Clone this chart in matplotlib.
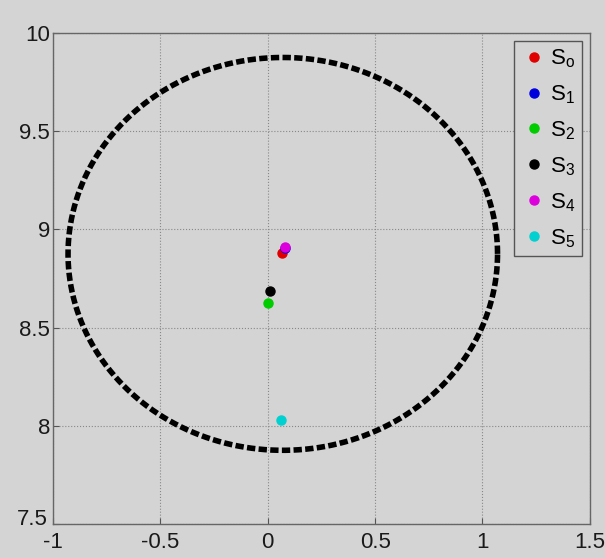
import numpy as np
import matplotlib
matplotlib.use("Agg")
import matplotlib.pyplot as plt
from matplotlib.transforms import ScaledTranslation

plt.rcParams['font.family'] = ['Liberation Sans', 'DejaVu Sans']
plt.rcParams['mathtext.default'] = 'regular'

# Source positions
labels = ['$S_o$', '$S_1$', '$S_2$', '$S_3$', '$S_4$', '$S_5$']
colors = ['#e00000', '#0000dd', '#00cc00', '#000000', '#dd00dd', '#00d0d0']
xs = [0.065, 0.08, 0.0, 0.01, 0.08, 0.06]
ys = [8.878, 8.905, 8.625, 8.685, 8.908, 8.03]

# Reference circle
circle_center = (0.07, 8.875)
circle_radius = 1.0

xticks = [-1, -0.5, 0, 0.5, 1, 1.5]
yticks = [7.5, 8, 8.5, 9, 9.5, 10]

bg = '#d4d4d4'
fig = plt.figure(figsize=(6.05, 5.58), dpi=100, facecolor=bg)
ax = fig.add_axes([0.0876, 0.061, 0.8874, 0.88])
ax.set_facecolor(bg)

theta = np.linspace(0, 2 * np.pi, 400)
ax.plot(circle_center[0] + circle_radius * np.cos(theta),
        circle_center[1] + circle_radius * np.sin(theta),
        color='black', lw=4.0, linestyle=(0, (1.5, 0.6)))

for x, y, c, lab in zip(xs, ys, colors, labels):
    ax.plot([x], [y], 'o', color=c, markersize=6.5, label=lab, linestyle='none')

ax.set_xlim(-1, 1.5)
ax.set_ylim(7.5, 10)
ax.set_xticks(xticks)
ax.set_yticks(yticks)
ax.set_xticklabels(['-1', '-0.5', '0', '0.5', '1', '1.5'])
ax.set_yticklabels(['7.5', '8', '8.5', '9', '9.5', '10'])
ax.grid(True, linestyle=':', color='#888888', lw=0.8)
ax.tick_params(direction='in', length=4, labelsize=16, colors='#555555',
               labelcolor='#1a1a1a')
ax.tick_params(axis='y', pad=2)
ax.tick_params(axis='x', pad=6)
for s in ax.spines.values():
    s.set_color('#666666')
    s.set_linewidth(1.0)

# lift the lowest y label clear of the first x label
lowest = ax.get_yticklabels()[0]
lowest.set_transform(lowest.get_transform() +
                     ScaledTranslation(-2 / 72, 5 / 72, fig.dpi_scale_trans))

leg = ax.legend(loc='upper right', fontsize=16, frameon=True, fancybox=False,
                labelspacing=0.6, handletextpad=0.15, handlelength=1.2,
                borderaxespad=0.35, borderpad=0.3, markerscale=1.0)
leg.get_frame().set_facecolor(bg)
leg.get_frame().set_edgecolor('#555555')
leg.get_frame().set_linewidth(1.0)
leg.get_frame().set_alpha(1)

fig.savefig('out.png', dpi=100, facecolor=bg)
